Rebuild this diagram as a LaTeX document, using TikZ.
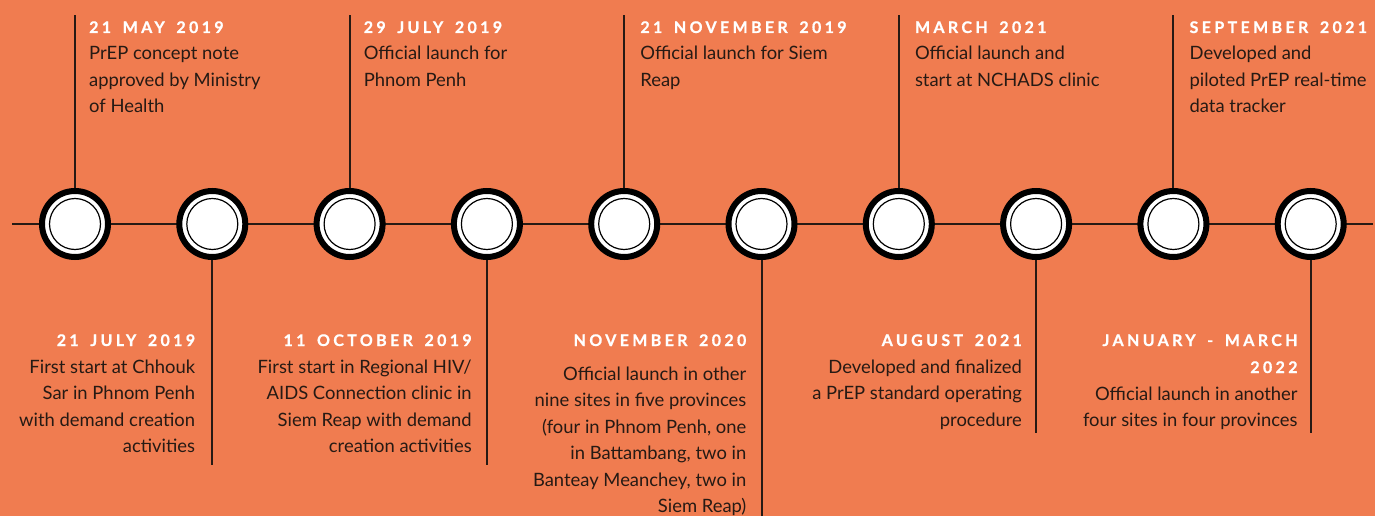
\documentclass[tikz,border=0pt]{standalone}
\usepackage{fontspec}
\usetikzlibrary{calc}
\setmainfont{Lato}
\newfontfamily\titlefont[LetterSpace=21, WordSpace=1.6, BoldFeatures={FakeBold=0.8}]{Lato}
\definecolor{bg}{RGB}{240,124,80}
\definecolor{ink}{RGB}{38,26,20}
\begin{document}
\begin{tikzpicture}[x=1pt,y=-1pt,
  body/.style={inner sep=0pt, text=ink, font=\fontsize{18.4}{26.5}\selectfont},
  bodyl/.style={body, align=left, anchor=base west},
  bodyr/.style={body, align=right, anchor=base east},
  ttl/.style={inner sep=0pt, text=white, font=\titlefont\bfseries\fontsize{16}{27}\selectfont},
  ttll/.style={ttl, align=left, anchor=base west},
  ttlr/.style={ttl, align=right, anchor=base east},
  dot/.style={circle, draw=black, fill=white, line width=6pt, minimum size=66pt, inner sep=0pt},
  ring/.style={circle, draw=black, line width=1.2pt, minimum size=51pt, inner sep=0pt},
  axis/.style={draw=ink, line width=2.5pt},
  stem/.style={draw=ink, line width=2pt}]
\fill[bg] (0,0) rectangle (1375,516);
\useasboundingbox (0,0) rectangle (1375,516);
\coordinate (L) at (12,224);
\coordinate (R) at (1373,224);
\draw[axis] (L) -- (R);
\foreach \i in {0,...,9}{
  \node[dot] (c\i) at ({75+137.3*\i},224) {};
  \node[ring] (r\i) at (c\i) {};
}
% top stems
\foreach \i in {0,2,4,6,8}{
  \coordinate (t\i) at ($(c\i.north)+(0,-173)$);
  \draw[stem] (c\i.north) -- (t\i);
}
% bottom stems
\foreach \i/\e in {1/465,3/465,5/516,7/433,9/433}{
  \coordinate (b\i) at (c\i.south |- 0,\e);
  \draw[stem] (c\i.south) -- (b\i);
}
% top labels (anchor = baseline of last line)
\node[ttll] (h0) at ($(c0)+(14,-191)$) {21 MAY 2019};
\node[bodyl] (d0) at ($(c0)+(14,-111)$) {PrEP concept note\\approved by Ministry\\of Health};
\node[ttll] (h2) at ($(c2)+(14,-191)$) {29 JULY 2019};
\node[bodyl] (d2) at ($(c2)+(14,-137.5)$) {Official launch for\\Phnom Penh};
\node[ttll] (h4) at ($(c4)+(16,-191)$) {21 NOVEMBER 2019};
\node[bodyl] (d4) at ($(c4)+(16,-137.5)$) {Official launch for Siem\\Reap};
\node[ttll] (h6) at ($(c6)+(16,-191)$) {MARCH 2021};
\node[bodyl] (d6) at ($(c6)+(16,-137.5)$) {Official launch and\\start at NCHADS clinic};
\node[ttll] (h8) at ($(c8)+(16,-191)$) {SEPTEMBER 2021};
\node[bodyl] (d8) at ($(c8)+(16,-111)$) {Developed and\\piloted PrEP real-time\\data tracker};
% bottom labels
\node[ttlr] (h1) at ($(c1)+(-17,122)$) {21 JULY 2019};
\node[bodyr] (d1) at ($(c1)+(-17,228.5)$) {First start at Chhouk\\Sar in Phnom Penh\\with demand creation\\activities};
\node[ttlr] (h3) at ($(c3)+(-15,122)$) {11 OCTOBER 2019};
\node[bodyr] (d3) at ($(c3)+(-15,228.5)$) {First start in Regional HIV/\\AIDS Connection clinic in\\Siem Reap with demand\\creation activities};
\node[ttlr] (h5) at ($(c5)+(-15,122)$) {NOVEMBER 2020};
\node[bodyr] (d5) at ($(c5)+(-15,288.5)$) {Official launch in other\\nine sites in five provinces\\(four in Phnom Penh, one\\in Battambang, two in\\Banteay Meanchey, two in\\Siem Reap)};
\node[ttlr] (h7) at ($(c7)+(-14,122)$) {AUGUST 2021};
\node[bodyr] (d7) at ($(c7)+(-14,202)$) {Developed and finalized\\a PrEP standard operating\\procedure};
\node[ttlr] (h9) at ($(c9)+(-13,149)$) {JANUARY - MARCH\\2022};
\node[bodyr] (d9) at ($(c9)+(-13,202.5)$) {Official launch in another\\four sites in four provinces};
\end{tikzpicture}
\end{document}
